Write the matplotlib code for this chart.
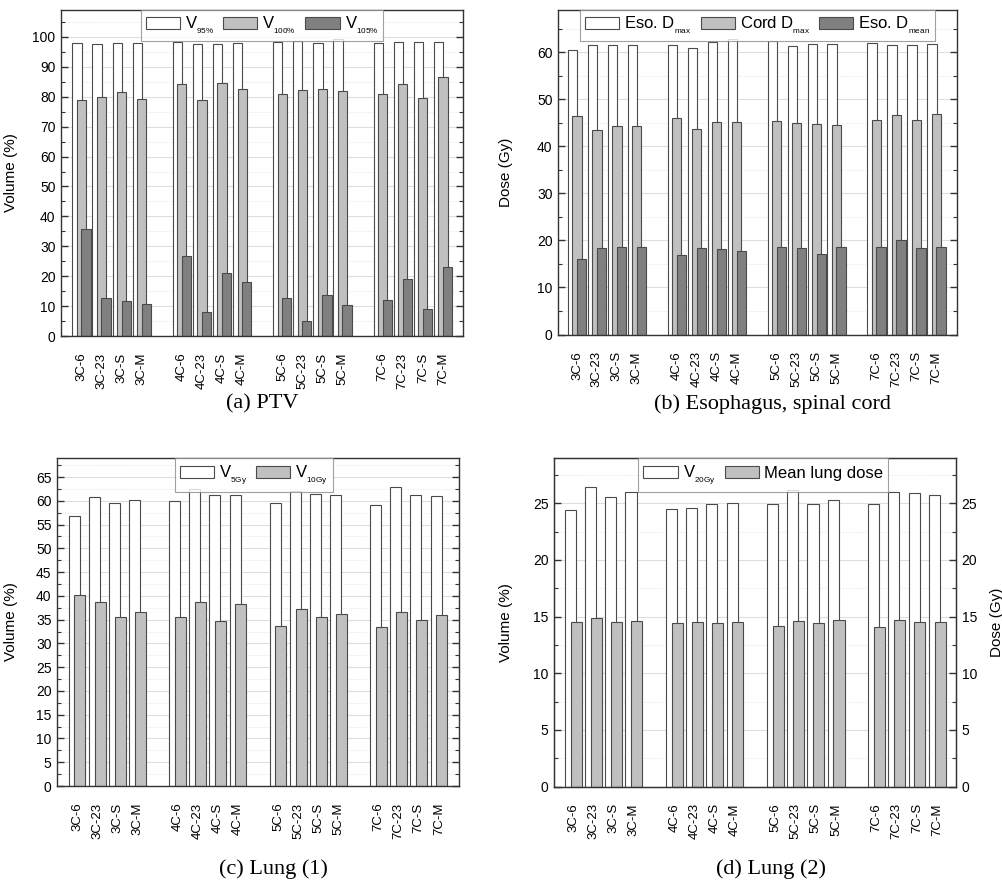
import matplotlib
matplotlib.use('Agg')
import matplotlib.pyplot as plt
import numpy as np
from matplotlib.ticker import MultipleLocator
from matplotlib.patches import Patch

plt.rcParams['font.family'] = ['Liberation Sans', 'DejaVu Sans']
plt.rcParams['mathtext.fontset'] = 'custom'
plt.rcParams['mathtext.rm'] = 'Liberation Sans'

categories = ['3C-6', '3C-23', '3C-S', '3C-M',
              '4C-6', '4C-23', '4C-S', '4C-M',
              '5C-6', '5C-23', '5C-S', '5C-M',
              '7C-6', '7C-23', '7C-S', '7C-M']

# (a) PTV
ptv_v95 = [97.9, 97.5, 97.8, 97.8, 98.3, 97.5, 97.7, 97.8,
           98.3, 98.7, 98.0, 99.2, 97.9, 98.2, 98.4, 98.4]
ptv_v100 = [78.9, 80.0, 81.7, 79.4, 84.4, 78.9, 84.6, 82.7,
            81.0, 82.3, 82.6, 82.0, 80.9, 84.4, 79.6, 86.5]
ptv_v105 = [35.8, 12.8, 11.7, 10.6, 26.7, 7.9, 20.9, 18.0,
            12.6, 5.1, 13.6, 10.5, 12.1, 19.2, 8.9, 23.0]

# (b) Esophagus, spinal cord
eso_dmax = [60.6, 61.5, 61.5, 61.5, 61.6, 61.0, 62.1, 62.8,
            62.4, 61.3, 61.8, 61.7, 62.0, 61.6, 61.6, 61.8]
cord_dmax = [46.5, 43.5, 44.3, 44.3, 46.1, 43.8, 45.2, 45.2,
             45.4, 45.0, 44.8, 44.6, 45.7, 46.6, 45.7, 46.8]
eso_dmean = [16.0, 18.4, 18.7, 18.5, 17.0, 18.3, 18.2, 17.7,
             18.7, 18.4, 17.2, 18.7, 18.7, 20.2, 18.3, 18.5]

# (c) Lung (1)
lung_v5 = [56.9, 60.9, 59.5, 60.1, 59.9, 62.5, 61.3, 61.3,
           59.5, 62.0, 61.5, 61.3, 59.2, 62.9, 61.3, 61.0]
lung_v10 = [40.1, 38.8, 35.6, 36.6, 35.6, 38.8, 34.8, 38.3,
            33.7, 37.3, 35.6, 36.2, 33.5, 36.6, 35.0, 35.9]

# (d) Lung (2)
lung_v20 = [24.4, 26.4, 25.6, 26.0, 24.5, 24.6, 24.9, 25.0,
            24.9, 26.2, 24.9, 25.3, 24.9, 26.0, 25.9, 25.7]
lung_mld = [14.5, 14.9, 14.5, 14.6, 14.4, 14.5, 14.4, 14.5,
            14.2, 14.6, 14.4, 14.7, 14.1, 14.7, 14.5, 14.5]

W, H = 1003, 884
fig = plt.figure(figsize=(W / 100, H / 100), dpi=100)


def rect(l, r, t, b):
    return [l / W, 1 - b / H, (r - l) / W, (b - t) / H]


pos = np.array([g * 5 + i for g in range(4) for i in range(4)], dtype=float)

C_WHITE = 'white'
C_LIGHT = '#c0c0c0'
C_DARK = '#808080'
EDGE = '#4a4a4a'
SPINE = '#333333'
TICKFS = 9.5


def style(ax, xlim, ylim, major, minor, right_ticks=True):
    ax.set_xlim(*xlim)
    ax.set_ylim(*ylim)
    ax.set_yticks(np.arange(0, ylim[1], major))
    ax.yaxis.set_minor_locator(MultipleLocator(minor))
    ax.tick_params(axis='y', which='major', direction='in', length=5, width=1,
                   right=right_ticks, labelsize=TICKFS + 0.5, pad=4, color=SPINE)
    ax.tick_params(axis='y', which='minor', direction='in', length=3, width=0.8,
                   right=right_ticks, color=SPINE)
    ax.set_xticks(pos)
    ax.set_xticklabels(categories, rotation=90, fontsize=TICKFS)
    ax.tick_params(axis='x', length=0, pad=12)
    ax.grid(True, which='major', axis='y', color='#dedede', lw=0.8)
    ax.grid(True, which='minor', axis='y', color='#e4e4e4', lw=0.7, ls=':')
    ax.set_axisbelow(True)
    for s in ax.spines.values():
        s.set_color(SPINE)
        s.set_linewidth(1.0)


def legend(ax, handles, labels, anchor=0.5):
    lg = ax.legend(handles, labels, loc='upper center', bbox_to_anchor=(anchor, 1.0),
                   ncol=len(handles), fontsize=12, frameon=True, fancybox=False,
                   borderaxespad=0, handlelength=2.05, handleheight=0.7,
                   handletextpad=0.3, columnspacing=0.55, borderpad=0.3)
    lg.get_frame().set_edgecolor('#8a8a8a')
    lg.get_frame().set_linewidth(0.8)
    return lg


def patch(c):
    return Patch(facecolor=c, edgecolor=EDGE, linewidth=0.8)


def sub(main, s):
    return main + r'$_{{}_{\mathregular{' + s + r'}}}$'


# ---------- (a) ----------
ax = fig.add_axes(rect(61, 463, 10, 336))
w3, o3 = 0.46, 0.225
ax.bar(pos - o3, ptv_v95, w3, color=C_WHITE, edgecolor=EDGE, lw=0.8)
ax.bar(pos, ptv_v100, w3, color=C_LIGHT, edgecolor=EDGE, lw=0.8)
ax.bar(pos + o3, ptv_v105, w3, color=C_DARK, edgecolor=EDGE, lw=0.8)
style(ax, (-1.02, 19.0), (0, 109), 10, 5)
ax.set_ylabel('Volume (%)', fontsize=11)
ax.yaxis.set_label_coords(-0.107, 0.5)
legend(ax, [patch(C_WHITE), patch(C_LIGHT), patch(C_DARK)],
       [sub('V', r'95\%'), sub('V', r'100\%'), sub('V', r'105\%')])

# ---------- (b) ----------
ax = fig.add_axes(rect(558, 957, 10, 334.5))
ax.bar(pos - o3, eso_dmax, w3, color=C_WHITE, edgecolor=EDGE, lw=0.8)
ax.bar(pos, cord_dmax, w3, color=C_LIGHT, edgecolor=EDGE, lw=0.8)
ax.bar(pos + o3, eso_dmean, w3, color=C_DARK, edgecolor=EDGE, lw=0.8)
style(ax, (-0.95, 19.03), (0, 69), 10, 5)
ax.set_ylabel('Dose (Gy)', fontsize=11)
ax.yaxis.set_label_coords(-0.113, 0.5)
legend(ax, [patch(C_WHITE), patch(C_LIGHT), patch(C_DARK)],
       [sub('Eso. D', 'max'), sub('Cord D', 'max'), sub('Eso. D', 'mean')])

# ---------- (c) ----------
ax = fig.add_axes(rect(57, 459, 458, 786))
w2, o2 = 0.55, 0.142
ax.bar(pos - o2, lung_v5, w2, color=C_WHITE, edgecolor=EDGE, lw=0.8)
ax.bar(pos + o2, lung_v10, w2, color=C_LIGHT, edgecolor=EDGE, lw=0.8)
style(ax, (-1.0, 19.0), (0, 69), 5, 2.5)
ax.set_ylabel('Volume (%)', fontsize=11)
ax.yaxis.set_label_coords(-0.097, 0.5)
legend(ax, [patch(C_WHITE), patch(C_LIGHT)],
       [sub('V', '5Gy'), sub('V', '10Gy')], anchor=0.49)

# ---------- (d) ----------
ax = fig.add_axes(rect(554, 956, 458, 786.5))
ax.bar(pos - o2, lung_v20, w2, color=C_WHITE, edgecolor=EDGE, lw=0.8)
ax.bar(pos + o2, lung_mld, w2, color=C_LIGHT, edgecolor=EDGE, lw=0.8)
style(ax, (-0.95, 18.93), (0, 29), 5, 2.5, right_ticks=False)
ax.set_ylabel('Volume (%)', fontsize=11)
ax.yaxis.set_label_coords(-0.102, 0.5)
ax2 = ax.twinx()
ax2.set_ylim(0, 29)
ax2.set_yticks(np.arange(0, 29, 5))
ax2.yaxis.set_minor_locator(MultipleLocator(2.5))
ax2.tick_params(axis='y', which='major', direction='in', length=5, width=1,
                labelsize=TICKFS + 0.5, pad=4, color=SPINE)
ax2.tick_params(axis='y', which='minor', direction='in', length=3, width=0.8, color=SPINE)
for s in ax2.spines.values():
    s.set_color(SPINE)
ax2.set_ylabel('Dose (Gy)', fontsize=11)
ax2.yaxis.set_label_coords(1.085, 0.5)
legend(ax2, [patch(C_WHITE), patch(C_LIGHT)],
       [sub('V', '20Gy'), 'Mean lung dose'], anchor=0.52)

# captions
cap = dict(ha='center', va='center', family='Liberation Serif', fontsize=16)
fig.text(262 / W, 1 - 404 / H, '(a) PTV', **cap)
fig.text(772 / W, 1 - 404 / H, '(b) Esophagus, spinal cord', **cap)
fig.text(273 / W, 1 - 869 / H, '(c) Lung (1)', **cap)
fig.text(771 / W, 1 - 869 / H, '(d) Lung (2)', **cap)

fig.savefig('out.png', dpi=100)
